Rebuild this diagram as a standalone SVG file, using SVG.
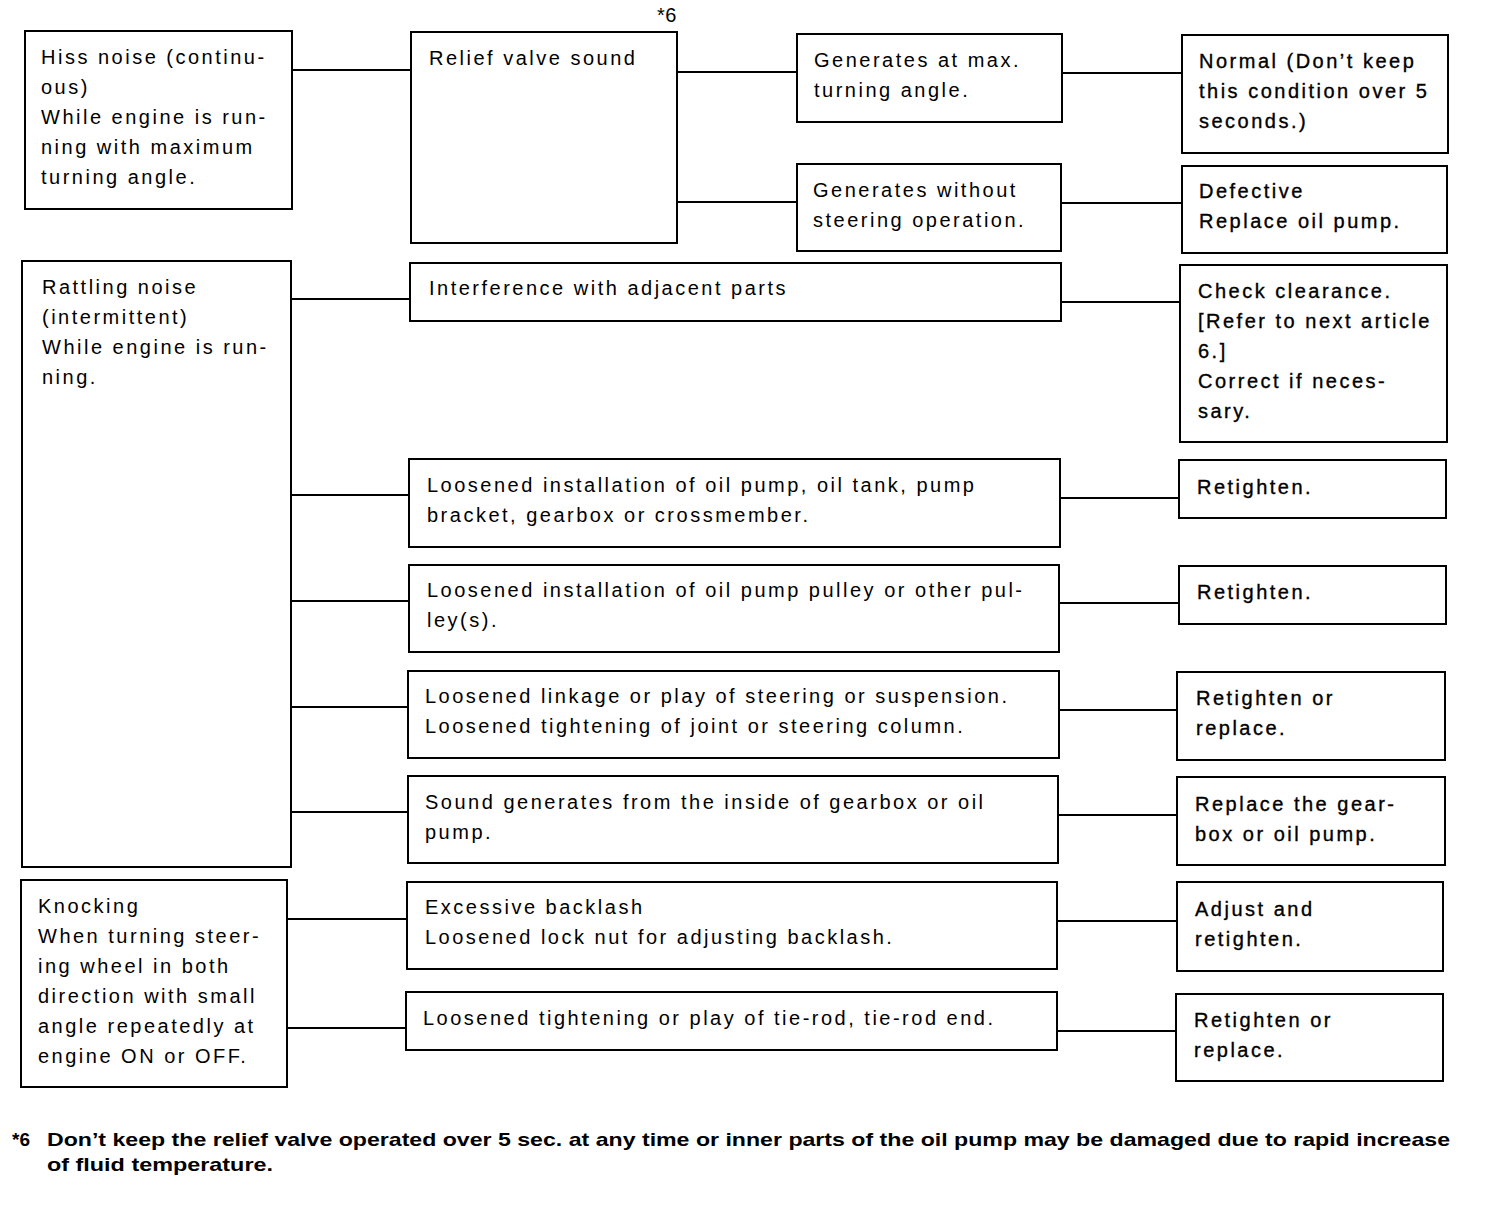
<svg xmlns="http://www.w3.org/2000/svg" width="1504" height="1226" viewBox="0 0 1504 1226">
<style>
rect{fill:#fff;stroke:#000;stroke-width:2}
line{stroke:#000;stroke-width:2}
text{font-family:"Liberation Sans",Arial,sans-serif;font-size:20px;letter-spacing:2.5px;fill:#000}
.r text{stroke:#000;stroke-width:0.35}
.fn{font-weight:bold;font-size:19px;letter-spacing:0}
</style>
<rect x="0" y="0" width="1504" height="1226" style="stroke:none"/>
<g id="connectors">
<line x1="292" y1="70" x2="411" y2="70"/>
<line x1="677" y1="72" x2="797" y2="72"/>
<line x1="677" y1="202" x2="797" y2="202"/>
<line x1="1062" y1="73" x2="1182" y2="73"/>
<line x1="1061" y1="203" x2="1182" y2="203"/>
<line x1="291" y1="299" x2="410" y2="299"/>
<line x1="1061" y1="302" x2="1180" y2="302"/>
<line x1="291" y1="495" x2="409" y2="495"/>
<line x1="1060" y1="498" x2="1179" y2="498"/>
<line x1="291" y1="601" x2="409" y2="601"/>
<line x1="1059" y1="603" x2="1179" y2="603"/>
<line x1="291" y1="707" x2="408" y2="707"/>
<line x1="1059" y1="710" x2="1177" y2="710"/>
<line x1="291" y1="812" x2="408" y2="812"/>
<line x1="1058" y1="815" x2="1177" y2="815"/>
<line x1="287" y1="919" x2="407" y2="919"/>
<line x1="1057" y1="921" x2="1177" y2="921"/>
<line x1="287" y1="1028" x2="406" y2="1028"/>
<line x1="1057" y1="1031" x2="1176" y2="1031"/>
</g>
<g id="hiss"><rect x="25" y="31" width="267" height="178"/>
<text x="41" y="64">Hiss noise (continu-</text><text x="41" y="94">ous)</text><text x="41" y="124">While engine is run-</text><text x="41" y="154">ning with maximum</text><text x="41" y="184">turning angle.</text></g>
<g id="relief"><rect x="411" y="32" width="266" height="211"/>
<text x="429" y="65">Relief valve sound</text><text x="657" y="22" style="font-size:20px;letter-spacing:0.5px">*6</text></g>
<g id="genmax"><rect x="797" y="34" width="265" height="88"/>
<text x="814" y="67">Generates at max.</text><text x="814" y="97">turning angle.</text></g>
<g id="normal" class="r"><rect x="1182" y="35" width="266" height="118"/>
<text x="1199" y="68">Normal (Don’t keep</text><text x="1199" y="98">this condition over 5</text><text x="1199" y="128">seconds.)</text></g>
<g id="genwithout"><rect x="797" y="164" width="264" height="87"/>
<text x="813" y="197">Generates without</text><text x="813" y="227">steering operation.</text></g>
<g id="defective" class="r"><rect x="1182" y="166" width="265" height="87"/>
<text x="1199" y="198">Defective</text><text x="1199" y="228">Replace oil pump.</text></g>
<g id="rattling"><rect x="22" y="261" width="269" height="606"/>
<text x="42" y="294">Rattling noise</text><text x="42" y="324">(intermittent)</text><text x="42" y="354">While engine is run-</text><text x="42" y="384">ning.</text></g>
<g id="interference"><rect x="410" y="263" width="651" height="58"/>
<text x="429" y="295">Interference with adjacent parts</text></g>
<g id="check" class="r"><rect x="1180" y="265" width="267" height="177"/>
<text x="1198" y="298">Check clearance.</text><text x="1198" y="328">[Refer to next article</text><text x="1198" y="358">6.]</text><text x="1198" y="388">Correct if neces-</text><text x="1198" y="418">sary.</text></g>
<g id="oilpump"><rect x="409" y="459" width="651" height="88"/>
<text x="427" y="492">Loosened installation of oil pump, oil tank, pump</text><text x="427" y="522">bracket, gearbox or crossmember.</text></g>
<g id="retighten1" class="r"><rect x="1179" y="460" width="267" height="58"/>
<text x="1197" y="494">Retighten.</text></g>
<g id="pulley"><rect x="409" y="565" width="650" height="87"/>
<text x="427" y="597">Loosened installation of oil pump pulley or other pul-</text><text x="427" y="627">ley(s).</text></g>
<g id="retighten2" class="r"><rect x="1179" y="566" width="267" height="58"/>
<text x="1197" y="599">Retighten.</text></g>
<g id="linkage"><rect x="408" y="671" width="651" height="87"/>
<text x="425" y="703">Loosened linkage or play of steering or suspension.</text><text x="425" y="733">Loosened tightening of joint or steering column.</text></g>
<g id="retighten3" class="r"><rect x="1177" y="672" width="268" height="88"/>
<text x="1196" y="705">Retighten or</text><text x="1196" y="735">replace.</text></g>
<g id="sound"><rect x="408" y="776" width="650" height="87"/>
<text x="425" y="809">Sound generates from the inside of gearbox or oil</text><text x="425" y="839">pump.</text></g>
<g id="replace" class="r"><rect x="1177" y="777" width="268" height="88"/>
<text x="1195" y="811">Replace the gear-</text><text x="1195" y="841">box or oil pump.</text></g>
<g id="knocking"><rect x="21" y="880" width="266" height="207"/>
<text x="38" y="913">Knocking</text><text x="38" y="943">When turning steer-</text><text x="38" y="973">ing wheel in both</text><text x="38" y="1003">direction with small</text><text x="38" y="1033">angle repeatedly at</text><text x="38" y="1063">engine ON or OFF.</text></g>
<g id="backlash"><rect x="407" y="882" width="650" height="87"/>
<text x="425" y="914">Excessive backlash</text><text x="425" y="944">Loosened lock nut for adjusting backlash.</text></g>
<g id="adjust" class="r"><rect x="1177" y="882" width="266" height="89"/>
<text x="1195" y="916">Adjust and</text><text x="1195" y="946">retighten.</text></g>
<g id="tierod"><rect x="406" y="992" width="651" height="58"/>
<text x="423" y="1025">Loosened tightening or play of tie-rod, tie-rod end.</text></g>
<g id="retighten4" class="r"><rect x="1176" y="994" width="267" height="87"/>
<text x="1194" y="1027">Retighten or</text><text x="1194" y="1057">replace.</text></g>
<g id="footnote">
<text class="fn" x="12" y="1146">*6</text>
<text class="fn" x="47" y="1146" textLength="1403" lengthAdjust="spacingAndGlyphs">Don’t keep the relief valve operated over 5 sec. at any time or inner parts of the oil pump may be damaged due to rapid increase</text>
<text class="fn" x="47" y="1171" textLength="226" lengthAdjust="spacingAndGlyphs">of fluid temperature.</text>
</g>
</svg>
